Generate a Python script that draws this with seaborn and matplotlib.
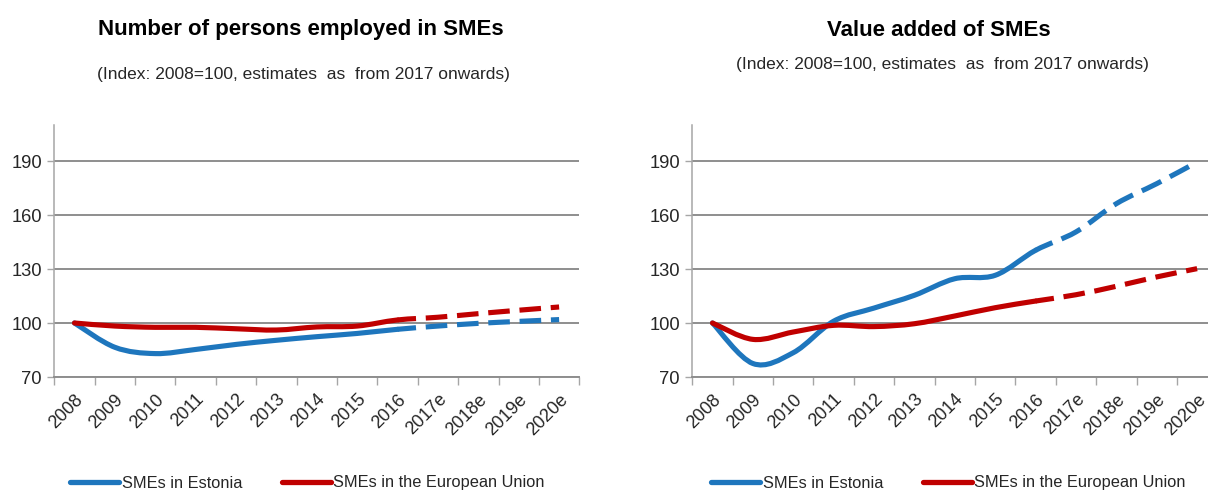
import numpy as np
import matplotlib
matplotlib.use("Agg")
import matplotlib.pyplot as plt
from matplotlib.path import Path
from matplotlib.patches import PathPatch
from matplotlib.lines import Line2D
from matplotlib.ticker import FixedLocator, NullFormatter, FixedFormatter
import seaborn as sns

# ---------------- data ----------------
years = ['2008', '2009', '2010', '2011', '2012', '2013', '2014', '2015', '2016',
         '2017e', '2018e', '2019e', '2020e']
emp_estonia = [100, 86.5, 83.0, 85.3, 88.1, 90.4, 92.4, 94.2, 96.5, 98.3, 99.8, 100.9, 101.9]
emp_eu = [100, 98.3, 97.6, 97.6, 96.8, 96.1, 97.8, 98.3, 101.7, 103.2, 105.2, 107.1, 108.9]
va_estonia = [100, 77.5, 83.5, 101.0, 108.3, 115.4, 124.6, 126.5, 140.4, 150.6, 166.3, 177.4, 189.4]
va_eu = [100, 90.9, 95.0, 98.7, 98.0, 99.6, 103.9, 108.5, 112.2, 115.7, 120.4, 125.6, 130.2]
last_actual = '2016'
y_ticks = [70, 100, 130, 160, 190]
titles = ['Number of persons employed in SMEs', 'Value added of SMEs']
subtitle = '(Index: 2008=100, estimates  as  from 2017 onwards)'
series_names = ['SMEs in Estonia', 'SMEs in the European Union']

BLUE = '#1E76BD'
RED = '#C00000'
GRID = '#8E8E8E'
SPINE = '#A6A6A6'
TXT = '#262626'

sns.set_theme(style='white')
plt.rcParams['font.family'] = ['Liberation Sans', 'DejaVu Sans']


def smooth_path(xs, ys, i0, i1):
    """Excel-like smoothed line (Catmull-Rom as cubic Bezier) from point i0 to i1."""
    xs = np.asarray(xs, float)
    ys = np.asarray(ys, float)
    n = len(xs)
    verts = [(xs[i0], ys[i0])]
    codes = [Path.MOVETO]
    for i in range(i0, i1):
        p0 = max(i - 1, 0)
        p3 = min(i + 2, n - 1)
        c1 = (xs[i] + (xs[i + 1] - xs[p0]) / 6.0, ys[i] + (ys[i + 1] - ys[p0]) / 6.0)
        c2 = (xs[i + 1] - (xs[p3] - xs[i]) / 6.0, ys[i + 1] - (ys[p3] - ys[i]) / 6.0)
        verts += [c1, c2, (xs[i + 1], ys[i + 1])]
        codes += [Path.CURVE4] * 3
    return Path(verts, codes)


def draw_series(ax, values, color):
    x = np.arange(len(years))
    k = years.index(last_actual)
    solid = PathPatch(smooth_path(x, values, 0, k), fill=False, edgecolor=color,
                      linewidth=3.7, capstyle='round', joinstyle='round', zorder=3)
    dashed = PathPatch(smooth_path(x, values, k, len(years) - 1), fill=False,
                       edgecolor=color, linewidth=3.7, linestyle=(0.6, (4.2, 1.9)),
                       capstyle='butt', joinstyle='round', zorder=3)
    ax.add_patch(solid)
    ax.add_patch(dashed)


fig = plt.figure(figsize=(12.08, 4.91), dpi=100)
W, H = 1208.0, 491.0
ax1 = fig.add_axes([54.3 / W, 114 / H, 525 / W, 252 / H])
ax2 = fig.add_axes([692.3 / W, 114 / H, 525 / W, 252 / H])

for ax, (est, eu) in zip([ax1, ax2], [(emp_estonia, emp_eu), (va_estonia, va_eu)]):
    draw_series(ax, est, BLUE)
    draw_series(ax, eu, RED)
    n = len(years)
    ax.set_xlim(-0.5, n - 0.5)
    ax.set_ylim(70, 210)
    ax.set_facecolor('white')
    # x axis: ticks at category boundaries, labels at centres
    ax.xaxis.set_major_locator(FixedLocator(np.arange(n + 1) - 0.5))
    ax.xaxis.set_major_formatter(NullFormatter())
    ax.xaxis.set_minor_locator(FixedLocator(np.arange(n)))
    ax.xaxis.set_minor_formatter(FixedFormatter(years))
    ax.tick_params(axis='x', which='major', direction='out', length=5.5, width=1.0,
                   color=SPINE, bottom=True)
    ax.tick_params(axis='x', which='minor', length=0, pad=10, labelsize=13,
                   labelcolor=TXT)
    for lab in ax.get_xticklabels(minor=True):
        lab.set_rotation(45)
        lab.set_ha('right')
        lab.set_va('top')
        lab.set_rotation_mode('anchor')
    # y axis
    ax.set_yticks(y_ticks)
    ax.set_yticklabels([str(v) for v in y_ticks])
    ax.tick_params(axis='y', direction='out', length=5, width=1.0, color=SPINE,
                   left=True, pad=4, labelsize=13.2, labelcolor=TXT)
    ax.yaxis.grid(True, color=GRID, linewidth=1.4)
    ax.xaxis.grid(False)
    ax.set_axisbelow(True)
    sns.despine(ax=ax, top=True, right=True)
    ax.spines['left'].set_color(SPINE)
    ax.spines['left'].set_linewidth(1.1)
    ax.spines['bottom'].set_color(GRID)
    ax.spines['bottom'].set_linewidth(1.4)

# titles
fig.text(300.5 / W, 1 - 29 / H, titles[0], ha='center', va='center',
         fontsize=16, fontweight='bold', color='black')
fig.text(303.7 / W, 1 - 74 / H, subtitle, ha='center', va='center',
         fontsize=12.5, color=TXT)
fig.text(938.5 / W, 1 - 31 / H, titles[1], ha='center', va='center',
         fontsize=16, fontweight='bold', color='black')
fig.text(942.5 / W, 1 - 65 / H, subtitle, ha='center', va='center',
         fontsize=12.5, color=TXT)

# legends
handles = [Line2D([0], [0], color=BLUE, lw=3.8, solid_capstyle='round'),
           Line2D([0], [0], color=RED, lw=3.8, solid_capstyle='round')]
for cx in [307.5 / W, 948.5 / W]:
    fig.legend(handles, series_names, loc='center', bbox_to_anchor=(cx, 1 - 483 / H),
               ncol=2, frameon=False, fontsize=11.8, handlelength=3.0,
               handletextpad=0.15, columnspacing=2.4, labelcolor=TXT)

fig.savefig('out.png', dpi=100, facecolor='white')
